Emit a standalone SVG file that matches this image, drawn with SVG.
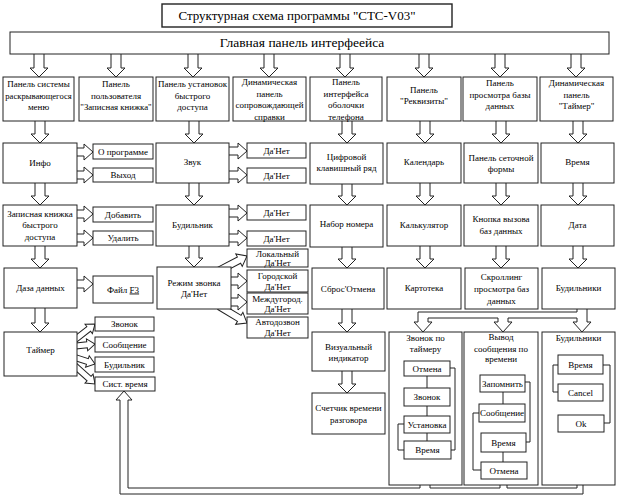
<svg xmlns="http://www.w3.org/2000/svg" width="623" height="498" viewBox="0 0 623 498">
<style>
.b{fill:#fff;stroke:#222;stroke-width:1}
.t{font-family:"Liberation Serif","Times New Roman",serif;font-size:9px;fill:#000;text-anchor:middle}
.p{fill:none;stroke:#222;stroke-width:1}
.h{fill:#fff;stroke:#222;stroke-width:1}
</style>
<defs>
<polygon id="dn" points="-5,-26 -5,-9 -9,-9 0,0 9,-9 5,-9 5,-26" fill="#fff" stroke="#222"/>
<polygon id="rt" points="-22,-4 -9,-4 -9,-8 0,0 -9,8 -9,4 -22,4" fill="#fff" stroke="#222"/>
<polygon id="rtd" points="-32,-3.5 -9,-3.5 -9,-7 0,0 -9,7 -9,3.5 -32,3.5" fill="#fff" stroke="#222"/>
<polygon id="rts" points="-30,-3 -8,-3 -8,-6 0,0 -8,6 -8,3 -30,3" fill="#fff" stroke="#222"/>
</defs>
<rect width="623" height="498" fill="#fff"/>

<g id="panel-timer-ring">
<rect class="b" x="389" y="332" width="73" height="153"/>
<text class="t" x="425.5" y="341">Звонок по</text>
<text class="t" x="425.5" y="352">таймеру</text>
</g>
<g id="panel-msg-time">
<rect class="b" x="464" y="332" width="74" height="153"/>
<text class="t" x="501" y="340">Вывод</text>
<text class="t" x="501" y="351.5">сообщения по</text>
<text class="t" x="501" y="362">времени</text>
</g>
<g id="panel-alarms">
<rect class="b" x="542" y="332" width="73" height="153"/>
<text class="t" x="578.5" y="341">Будильники</text>
</g>

<g id="connectors">
<use href="#dn" x="39" y="77"/>
<use href="#dn" x="116" y="77"/>
<use href="#dn" x="193" y="77"/>
<use href="#dn" x="269" y="77"/>
<use href="#dn" x="345" y="77"/>
<use href="#dn" x="424" y="77"/>
<use href="#dn" x="500" y="77"/>
<use href="#dn" x="576" y="77"/>
<use href="#dn" x="40" y="143"/>
<use href="#dn" x="40" y="205"/>
<use href="#dn" x="40" y="268"/>
<use href="#dn" x="40" y="332"/>
<use href="#dn" x="194" y="143"/>
<use href="#dn" x="194" y="205"/>
<use href="#dn" x="194" y="267"/>
<use href="#dn" x="347" y="143"/>
<use href="#dn" x="347" y="205"/>
<use href="#dn" x="347" y="268"/>
<use href="#dn" x="347" y="332"/>
<use href="#dn" x="347" y="393"/>
<use href="#dn" x="425" y="143"/>
<use href="#dn" x="425" y="205"/>
<use href="#dn" x="425" y="268"/>
<use href="#dn" x="501" y="143"/>
<use href="#dn" x="501" y="205"/>
<use href="#dn" x="501" y="268"/>
<use href="#dn" x="578" y="143"/>
<use href="#dn" x="578" y="205"/>
<use href="#dn" x="578" y="268"/>
<use href="#rt" x="93" y="152"/>
<use href="#rt" x="93" y="175"/>
<use href="#rt" x="93" y="214"/>
<use href="#rt" x="93" y="238"/>
<use href="#rt" x="93" y="284"/>
<use href="#rt" x="247" y="151"/>
<use href="#rt" x="247" y="175"/>
<use href="#rt" x="247" y="213"/>
<use href="#rt" x="247" y="238"/>
<use href="#rt" x="247" y="281"/>
<use href="#rt" x="247" y="302"/>
<use href="#rtd" transform="translate(247,256) rotate(-27.5)"/>
<use href="#rtd" transform="translate(247,323) rotate(31)"/>
<use href="#rts" transform="translate(95,324) rotate(-38)"/>
<use href="#rts" transform="translate(95,344) rotate(-6)"/>
<use href="#rts" transform="translate(95,364) rotate(18)"/>
<use href="#rts" transform="translate(95,384) rotate(42)"/>
<path class="p" d="M577,309 V312 H418 V322 M428,322 V318 H498 V322 M508,322 V318 H577 V322 M587,309 V322"/>
<polyline class="h" points="418,322 414,322 423,332 432,322 428,322"/>
<polyline class="h" points="498,322 494,322 503,332 512,322 508,322"/>
<polyline class="h" points="577,322 573,322 582,332 591,322 587,322"/>
<path class="p" d="M583,485 V494 H120 V400 M128,400 V488 H420 V485 M430,485 V488 H500 V485 M507,485 V488 H577 V485"/>
<polyline class="h" points="120,400 116,400 124,391 132,400 128,400"/>
<path class="p" d="M427,376 V388 M427,406 V416 M427,433 V441 M450,368 H455 V450 H451 M404,424 H398 V450 H404 M503,392 V404 M503,452 V462 M525,382 H530 V442 H526 M479,413 H473 V470 H481 M558,365 H553 V392 H558 M603,365 H610 V423 H604"/>
</g>

<g id="title"><rect class="b" x="162" y="4" width="290" height="23" style="stroke-width:1.4"/><text class="t" x="297" y="20" style="font-size:13px">Структурная схема программы "СТС-V03"</text></g>
<g id="main-panel"><rect class="b" x="10" y="32" width="599" height="22"/><text class="t" x="302" y="47" style="font-size:13.5px">Главная панель интерфеейса</text></g>

<g id="p1"><rect class="b" x="3" y="77" width="71" height="44"/><text class="t" x="38.5" y="87">Панель системы</text><text class="t" x="38.5" y="98.5" style="font-size:8.6px">раскрывающегося</text><text class="t" x="38.5" y="110">меню</text></g>
<g id="p2"><rect class="b" x="79" y="77" width="74" height="44"/><text class="t" x="116" y="87">Панель</text><text class="t" x="116" y="98.5">пользователя</text><text class="t" x="116" y="110" style="font-size:8.8px">"Записная книжка"</text></g>
<g id="p3"><rect class="b" x="156" y="77" width="73" height="44"/><text class="t" x="192.5" y="87">Панель установок</text><text class="t" x="192.5" y="98.5">быстрого</text><text class="t" x="192.5" y="110">доступа</text></g>
<g id="p4"><rect class="b" x="233" y="77" width="73" height="44"/><text class="t" x="269.5" y="85">Динамическая</text><text class="t" x="269.5" y="96.5">панель</text><text class="t" x="269.5" y="108">сопровождающей</text><text class="t" x="269.5" y="119.5">справки</text></g>
<g id="p5"><rect class="b" x="310" y="77" width="72" height="44"/><text class="t" x="346" y="85">Панель</text><text class="t" x="346" y="96.5">интерфейса</text><text class="t" x="346" y="108">оболочки</text><text class="t" x="346" y="119.5">телефона</text></g>
<g id="p6"><rect class="b" x="387" y="77" width="74" height="44"/><text class="t" x="424" y="93">Панель</text><text class="t" x="424" y="104">"Реквизиты"</text></g>
<g id="p7"><rect class="b" x="463" y="77" width="74" height="44"/><text class="t" x="500" y="86">Панель</text><text class="t" x="500" y="97.5">просмотра базы</text><text class="t" x="500" y="109">данных</text></g>
<g id="p8"><rect class="b" x="540" y="77" width="73" height="44"/><text class="t" x="576.5" y="86">Динамическая</text><text class="t" x="576.5" y="97.5">панель</text><text class="t" x="576.5" y="109">"Таймер"</text></g>

<g id="info"><rect class="b" x="3" y="143" width="74" height="40"/><text class="t" x="40" y="166">Инфо</text></g>
<g id="about"><rect class="b" x="93" y="144" width="60" height="15"/><text class="t" x="123" y="154.5">О программе</text></g>
<g id="exit"><rect class="b" x="93" y="168" width="60" height="14"/><text class="t" x="123" y="178">Выход</text></g>
<g id="sound"><rect class="b" x="156" y="143" width="73" height="40"/><text class="t" x="192.5" y="165">Звук</text></g>
<g id="yn1"><rect class="b" x="247" y="143" width="59" height="15"/><text class="t" x="276.5" y="153.5">Да'Нет</text></g>
<g id="yn2"><rect class="b" x="247" y="168" width="59" height="15"/><text class="t" x="276.5" y="178.5">Да'Нет</text></g>
<g id="keypad"><rect class="b" x="310" y="143" width="73" height="41"/><text class="t" x="346.5" y="160">Цифровой</text><text class="t" x="346.5" y="171">клавишный ряд</text></g>
<g id="calendar"><rect class="b" x="387" y="143" width="74" height="40"/><text class="t" x="424" y="165">Календарь</text></g>
<g id="grid"><rect class="b" x="464" y="143" width="74" height="40"/><text class="t" x="501" y="161">Панель сеточной</text><text class="t" x="501" y="172">формы</text></g>
<g id="time"><rect class="b" x="541" y="143" width="73" height="40"/><text class="t" x="577.5" y="165">Время</text></g>

<g id="notebook"><rect class="b" x="3" y="205" width="74" height="41"/><text class="t" x="40" y="216.5">Записная книжка</text><text class="t" x="40" y="228">быстрого</text><text class="t" x="40" y="239.5">доступа</text></g>
<g id="add"><rect class="b" x="93" y="207" width="60" height="15"/><text class="t" x="123" y="217.5">Добавить</text></g>
<g id="delete"><rect class="b" x="93" y="231" width="60" height="14"/><text class="t" x="123" y="241">Удалить</text></g>
<g id="alarm"><rect class="b" x="156" y="205" width="73" height="41"/><text class="t" x="192.5" y="228">Будильник</text></g>
<g id="yn3"><rect class="b" x="247" y="205" width="59" height="15"/><text class="t" x="276.5" y="215.5">Да'Нет</text></g>
<g id="yn4"><rect class="b" x="247" y="231" width="59" height="15"/><text class="t" x="276.5" y="241.5">Да'Нет</text></g>
<g id="dial"><rect class="b" x="310" y="205" width="73" height="42"/><text class="t" x="346.5" y="227">Набор номера</text></g>
<g id="calc"><rect class="b" x="387" y="205" width="74" height="41"/><text class="t" x="424" y="228">Калькулятор</text></g>
<g id="dbbutton"><rect class="b" x="464" y="205" width="74" height="41"/><text class="t" x="501" y="222">Кнопка вызова</text><text class="t" x="501" y="234">баз данных</text></g>
<g id="date"><rect class="b" x="541" y="205" width="73" height="41"/><text class="t" x="577.5" y="228">Дата</text></g>

<g id="database"><rect class="b" x="4" y="268" width="73" height="40"/><text class="t" x="40.5" y="291">Даза данных</text></g>
<g id="filef3"><rect class="b" x="93" y="276" width="60" height="27"/><text class="t" x="123" y="292.5">Файл <tspan text-decoration="underline">F3</tspan></text></g>
<g id="ringmode"><rect class="b" x="157" y="267" width="74" height="42"/><text class="t" x="194" y="286">Режим звонка</text><text class="t" x="194" y="297">Да'Нет</text></g>
<g id="local"><rect class="b" x="247" y="249" width="61" height="18"/><text class="t" x="277.5" y="256.5">Локальный</text><text class="t" x="277.5" y="265.5">Да'Нет</text></g>
<g id="city"><rect class="b" x="247" y="270" width="61" height="22"/><text class="t" x="277.5" y="279">Городской</text><text class="t" x="277.5" y="289.5">Да'Нет</text></g>
<g id="intercity"><rect class="b" x="247" y="293" width="61" height="21"/><text class="t" x="277.5" y="301.5">Междугород.</text><text class="t" x="277.5" y="312">Да'Нет</text></g>
<g id="autodial"><rect class="b" x="247" y="317" width="61" height="21"/><text class="t" x="277.5" y="325">Автодозвон</text><text class="t" x="277.5" y="335.5">Да'Нет</text></g>
<g id="reset"><rect class="b" x="312" y="268" width="72" height="41"/><text class="t" x="348" y="292">Сброс'Отмена</text></g>
<g id="cards"><rect class="b" x="387" y="268" width="74" height="41"/><text class="t" x="424" y="291">Картотека</text></g>
<g id="scroll"><rect class="b" x="465" y="268" width="73" height="41"/><text class="t" x="501.5" y="280">Скроллинг</text><text class="t" x="501.5" y="292">просмотра баз</text><text class="t" x="501.5" y="304">данных</text></g>
<g id="alarms"><rect class="b" x="542" y="268" width="73" height="41"/><text class="t" x="578.5" y="291">Будильники</text></g>

<g id="timer"><rect class="b" x="4" y="332" width="73" height="44"/><text class="t" x="40.5" y="353">Таймер</text></g>
<g id="t-ring"><rect class="b" x="95" y="317" width="59" height="14"/><text class="t" x="124.5" y="327">Звонок</text></g>
<g id="t-msg"><rect class="b" x="95" y="337" width="59" height="15"/><text class="t" x="124.5" y="347.5">Сообщение</text></g>
<g id="t-alarm"><rect class="b" x="95" y="357" width="59" height="15"/><text class="t" x="124.5" y="367.5">Будильник</text></g>
<g id="systime"><rect class="b" x="95" y="377" width="60" height="14"/><text class="t" x="125" y="387">Сист. время</text></g>
<g id="visual"><rect class="b" x="312" y="332" width="73" height="39"/><text class="t" x="348.5" y="349.5">Визуальный</text><text class="t" x="348.5" y="361">индикатор</text></g>
<g id="counter"><rect class="b" x="312" y="393" width="73" height="41"/><text class="t" x="348.5" y="411">Счетчик времени</text><text class="t" x="348.5" y="423">разговора</text></g>

<g id="a-cancel"><rect class="b" x="404" y="361" width="46" height="15"/><text class="t" x="427" y="371.5">Отмена</text></g>
<g id="a-ring"><rect class="b" x="404" y="388" width="46" height="18"/><text class="t" x="427" y="400">Звонок</text></g>
<g id="a-set"><rect class="b" x="404" y="416" width="46" height="17"/><text class="t" x="427" y="427.5">Установка</text></g>
<g id="a-time"><rect class="b" x="404" y="441" width="47" height="18"/><text class="t" x="427.5" y="453">Время</text></g>
<g id="b-save"><rect class="b" x="480" y="375" width="45" height="17"/><text class="t" x="502.5" y="386.5">Запомнить</text></g>
<g id="b-msg"><rect class="b" x="479" y="404" width="46" height="18"/><text class="t" x="502" y="416">Сообщение</text></g>
<g id="b-time"><rect class="b" x="481" y="433" width="45" height="19"/><text class="t" x="503.5" y="445.5">Время</text></g>
<g id="b-cancel"><rect class="b" x="481" y="462" width="46" height="17"/><text class="t" x="504" y="473.5">Отмена</text></g>
<g id="c-time"><rect class="b" x="558" y="355" width="45" height="19"/><text class="t" x="580.5" y="367.5">Время</text></g>
<g id="c-cancel"><rect class="b" x="558" y="384" width="45" height="17"/><text class="t" x="580.5" y="395.5">Cancel</text></g>
<g id="c-ok"><rect class="b" x="558" y="415" width="46" height="17"/><text class="t" x="581" y="426.5">Ok</text></g>
</svg>
